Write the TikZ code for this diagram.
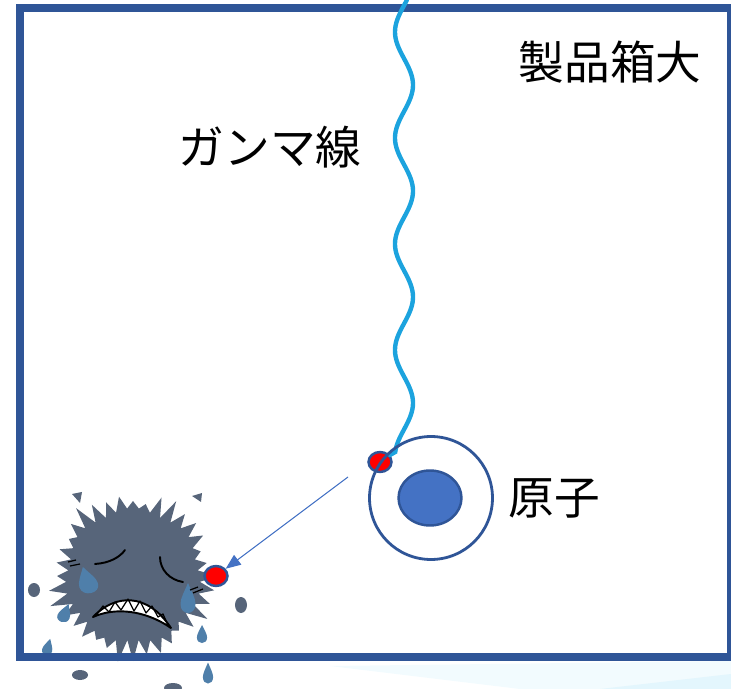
\documentclass[tikz,border=0pt]{standalone}
\usepackage{fontspec}
\newfontfamily\jp{Noto Sans CJK JP}
\usetikzlibrary{shapes.geometric,arrows.meta}

\definecolor{boxblue}{HTML}{2F5597}
\definecolor{nucblue}{HTML}{4472C4}
\definecolor{gammablue}{HTML}{1CA3DE}
\definecolor{moldgray}{HTML}{57657A}
\definecolor{tearblue}{HTML}{4F7FAA}

\tikzset{
  electron/.style={ellipse,draw=boxblue,line width=1.4pt,fill=red,
    minimum width=0.46cm,minimum height=0.4cm,inner sep=0pt},
  jlabel/.style={font=\jp\fontsize{26}{30}\selectfont,inner sep=0pt},
  hit/.style={nucblue,line width=0.6pt,-{Triangle[length=0.3cm,width=0.24cm]}},
  tear/.pic={
    \fill (0,-10) .. controls (3,-4) and (6,0) .. (6,4)
      .. controls (6,8) and (3,10) .. (0,10)
      .. controls (-3,10) and (-6,8) .. (-6,4)
      .. controls (-6,0) and (-3,-4) .. (0,-10) -- cycle;
  },
}

\begin{document}
\begin{tikzpicture}[x=0.02cm,y=-0.02cm,
    declare function={spike(\a)=ifthenelse(mod(\a,10)==0,80+5*sin(5*\a)+4*cos(11*\a),66+2*sin(7*\a));}]
  \def\mx{133}
  \def\my{576}
  \useasboundingbox (0,0) rectangle (731,689);

  \fill[cyan!5] (330,666) -- (731,661) -- (731,689) -- (520,689) -- cycle;
  \fill[cyan!11] (600,689) -- (731,674) -- (731,689) -- cycle;

  % spiky mold and the drops around it
  \fill[moldgray] plot[samples at={0,5,...,355},variable=\a]
    ({\mx+spike(\a)*cos(\a)},{\my+spike(\a)*sin(\a)}) -- cycle;
  \fill[moldgray] (72,494) -- (82,492) -- (80,503) -- cycle;
  \fill[moldgray] (192,496) -- (202,493) -- (201,502) -- cycle;
  \fill[moldgray] (34,590) ellipse [x radius=6,y radius=7];
  \fill[moldgray] (241,605) ellipse [x radius=6,y radius=8];
  \fill[moldgray] (80,675) ellipse [x radius=8,y radius=5];
  \fill[moldgray] (173,688) ellipse [x radius=9,y radius=5];

  \pic[tearblue,xscale=1.6,yscale=1.35,rotate=15] at (87,580) {tear};
  \pic[tearblue,xscale=1.25,yscale=1.5] at (188,598) {tear};
  \pic[tearblue,xscale=1.05,yscale=0.95,rotate=-20] at (65,613) {tear};
  \pic[tearblue,xscale=0.85,yscale=0.85,rotate=-15] at (48,647) {tear};
  \pic[tearblue,xscale=0.85,yscale=0.9] at (202,634) {tear};
  \pic[tearblue,xscale=0.85,yscale=1.05] at (208,673) {tear};

  \draw[line width=1.1pt,line cap=round] (95,564) .. controls (110,563) and (120,557) .. (125,550);
  \draw[line width=1.1pt,line cap=round] (160,557) .. controls (160,570) and (170,580) .. (183,582);
  \draw[line width=0.7pt] (68,562) -- (76,560) (70,566) -- (80,564);
  \draw[line width=0.7pt] (190,590) -- (198,587) (193,593) -- (203,589);
  \draw[fill=white,line width=1.1pt,line join=round]
    (93,617) .. controls (115,594) and (147,592) .. (171,628)
    .. controls (145,610) and (115,607) .. (93,617) -- cycle;
  \draw[line width=0.7pt,line join=round]
    (97,614) -- (103,606) -- (109,612) -- (115,602) -- (121,610) -- (128,599)
    -- (134,611) -- (140,601) -- (146,613) -- (152,606) -- (158,617) -- (163,614) -- (167,623);

  \draw[boxblue,line width=4.6pt] (20,8) rectangle (731,657);

  % atom hit by the gamma ray
  \node[electron] (eAtom) at (380,462) {};
  \draw[gammablue,line width=2.5pt,line cap=round]
    plot[domain=0:452,samples=170,smooth,variable=\t] ({404-9*cos(3.3962*(\t-32))},\t)
    -- (eAtom.35);
  \node[circle,draw=boxblue,line width=1.6pt,minimum size=2.46cm,inner sep=0pt] (orbit) at (431,498) {};
  \node[ellipse,draw=boxblue,line width=1.4pt,fill=nucblue,
    minimum width=1.26cm,minimum height=1.1cm,inner sep=0pt] (nucleus) at (430,498) {};

  \node[electron] (eMold) at (216,576) {};
  \coordinate (kick) at (348,477);
  \draw[hit] (kick) -- (eMold);

  \node[jlabel] (boxLabel) at (610,62) {製品箱大};
  \node[jlabel] (gammaLabel) at (270,147) {ガンマ線};
  \node[jlabel] (atomLabel) at (554,498) {原子};
\end{tikzpicture}
\end{document}
